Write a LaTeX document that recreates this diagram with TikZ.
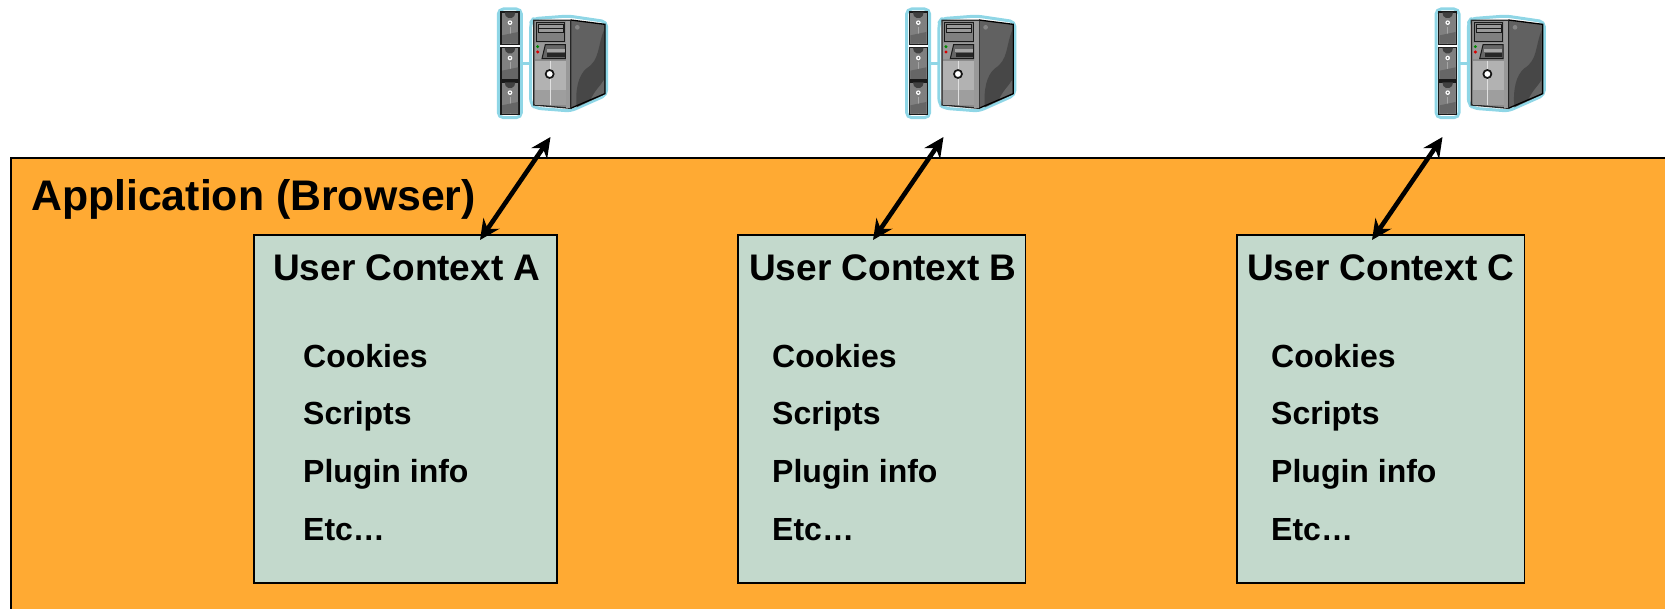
\documentclass[tikz,border=0pt]{standalone}
\usepackage{fontspec}
\setmainfont{Liberation Sans}
\usetikzlibrary{arrows.meta}
\definecolor{apporange}{HTML}{FFAA33}
\definecolor{ctxgreen}{HTML}{C3D9CC}
\definecolor{halo}{HTML}{8FD6E6}
\tikzset{
  ctxbox/.style={draw=black,line width=1.6pt,fill=ctxgreen,minimum width=#1,minimum height=348pt,anchor=north west,inner sep=0pt},
  ctxtitle/.style={font=\fontsize{37pt}{40pt}\selectfont\bfseries,anchor=base west,inner sep=0pt},
  ctxitem/.style={font=\fontsize{32pt}{36pt}\selectfont\bfseries,anchor=base west,inner sep=0pt},
  dbl/.style={{Stealth[length=20pt,width=19pt]}-{Stealth[length=20pt,width=19pt]},line width=4.6pt,black},
  pics/server/.style={code={
    \begin{scope}[x=0.3333pt,y=-0.3333pt]
      % halo
      \draw[halo,line width=3pt,fill=white,rounded corners=5pt] (55,27) rectangle (124,353);
      \draw[halo,line width=3pt] (124,190) -- (152,190);
      \draw[halo,line width=3pt,fill=white,rounded corners=5pt,line join=round]
        (152,68) -- (160,56) -- (265,48) -- (380,65) -- (380,285) -- (272,333) -- (168,325) -- (152,312) -- cycle;
      % rack slots
      \foreach \t in {36,142,246}{
        \draw[fill=black!50,draw=black!90,line width=1.3pt] (63,\t) rectangle (117,\t+98);
        \fill[black!75] (74,\t+1) -- (106,\t+1) -- (103,\t+12) -- (95,\t+18) -- (85,\t+18) -- (77,\t+12) -- cycle;
        \fill[white] (90,\t+32) circle (7);
        \fill[black!60] (90,\t+32) circle (3);
        \draw[black!35,line width=.7pt] (90,\t+45) -- (90,\t+96);
        \fill[black!60] (66,\t+70) -- (114,\t+60) -- (114,\t+95) -- (66,\t+95) -- cycle;
      }
      % tower side
      \fill[black!62] (272,60) -- (375,73) -- (375,281) -- (272,325) -- cycle;
      \fill[black!72] (290,322) -- (372,284) -- (372,90) .. controls (352,140) and (360,180) .. (320,205) .. controls (295,225) and (285,270) .. (290,322) -- cycle;
      \fill[black!60] (372,284) -- (330,303) .. controls (345,270) and (360,260) .. (372,240) -- cycle;
      \fill[black!48] (292,82) circle (7);
      \draw[black,line width=1.3pt] (272,60) -- (375,73) -- (375,281) -- (272,325);
      % tower front
      \draw[black!85,line width=1.3pt,fill=black!45] (161,61) -- (272,61) -- (272,325) -- (161,315) -- cycle;
      \fill[black!40] (258,62) rectangle (271,324);
      \draw[black!90,line width=1pt,fill=black!50] (170,68) rectangle (255,125);
      \draw[black!90,line width=1pt,fill=black!40] (175,74) rectangle (250,98);
      \draw[black!90,line width=.6pt] (175,86) -- (250,86);
      \fill[black!40] (165,128) rectangle (258,176);
      \draw[black!90,line width=1pt,fill=black!60] (186,176) -- (196,134) -- (256,134) -- (256,176) -- cycle;
      \fill[black!35] (200,146) rectangle (254,156);
      \fill[black!85] (202,160) rectangle (254,170);
      \fill[green!55!black] (173,140) circle (5);
      \fill[red!85!black] (173,156) circle (5);
      \fill[black!30] (165,182) rectangle (258,316);
      \fill[black!38] (165,270) rectangle (258,316);
      \draw[black!12,line width=.8pt] (210,182) -- (210,316);
      \draw[black!92,line width=1.7pt,fill=white] (209,222) circle (12);
    \end{scope}
  }}
}
\begin{document}
\begin{tikzpicture}[x=1pt,y=-1pt]
\useasboundingbox (0,0) rectangle (1665,609);
% application area
\node[fill=apporange,minimum width=1654pt,minimum height=451pt,anchor=north west,inner sep=0pt] (app) at (11,158) {};
\draw[black,line width=1.6pt] (app.north east) -- (app.north west) -- (app.south west);
\node[font=\fontsize{42.8pt}{46pt}\selectfont\bfseries,anchor=base west,inner sep=0pt] (apptitle) at (31,211) {Application (Browser)};
% servers
\pic at (480,0) {server};
\pic at (888.3,0) {server};
\pic at (1417.7,0) {server};
% contexts
\foreach \n/\L/\w/\tx/\ix/\lab in {A/253/303/273/303/A,B/737/287.5/749/772/B,C/1236/287.5/1247/1271/C}{
  \node[ctxbox=\w pt] (ctx\n) at (\L,234) {};
  \node[ctxtitle] (title\n) at (\tx,281) {User Context \lab};
  \node[ctxitem] (cook\n) at (\ix,367) {Cookies};
  \node[ctxitem] (scr\n) at (\ix,424.7) {Scripts};
  \node[ctxitem] (plug\n) at (\ix,482) {Plugin info};
  \node[ctxitem] (etc\n) at (\ix,540) {Etc…};
}
% connectors
\coordinate (a1) at (480,240); \coordinate (a2) at (550.5,137);
\coordinate (b1) at (873,240); \coordinate (b2) at (943.5,137);
\coordinate (c1) at (1372,240); \coordinate (c2) at (1442.5,137);
\draw[dbl] (a1) -- (a2);
\draw[dbl] (b1) -- (b2);
\draw[dbl] (c1) -- (c2);
\end{tikzpicture}
\end{document}
